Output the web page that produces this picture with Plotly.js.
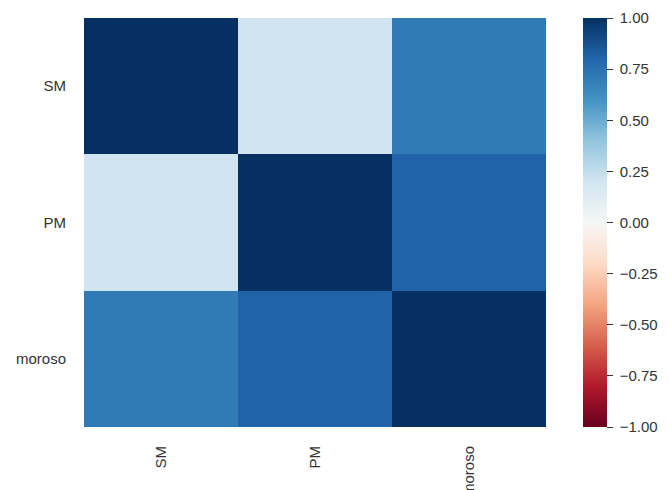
<!DOCTYPE html>
<html>
<head>
<meta charset="utf-8">
<script src="https://cdn.plot.ly/plotly-3.0.1.min.js"></script>
<style>html,body{margin:0;padding:0;background:#fff;}</style>
</head>
<body>
<div id="chart" style="width:670px;height:490px;"></div>
<script>
const labels = ["SM", "PM", "moroso"];
const rowSM = [1.00, 0.20, 0.71];
const rowPM = [0.20, 1.00, 0.81];
const rowMoroso = [0.71, 0.81, 1.00];
const cbTicks = [-1, -0.75, -0.5, -0.25, 0, 0.25, 0.5, 0.75, 1];

const rdbu = [
  [0.0, '#67001f'], [0.1, '#b2182b'], [0.2, '#d6604d'], [0.3, '#f4a582'],
  [0.4, '#fddbc7'], [0.5, '#f7f7f7'], [0.6, '#d1e5f0'], [0.7, '#92c5de'],
  [0.8, '#4393c3'], [0.9, '#2166ac'], [1.0, '#053061']
];

const FONT = 'Liberation Sans, Arial, sans-serif';

const trace = {
  type: 'heatmap',
  x: labels,
  y: labels,
  z: [rowSM, rowPM, rowMoroso],
  zmin: -1, zmax: 1,
  colorscale: rdbu,
  xgap: 0, ygap: 0,
  hoverinfo: 'skip',
  colorbar: {
    thickness: 24, thicknessmode: 'pixels',
    len: 1, lenmode: 'fraction',
    x: 1 + 37/462, xanchor: 'left', xpad: 0,
    y: 1, yanchor: 'top', ypad: 0,
    outlinewidth: 0,
    ticks: 'outside', ticklen: 6, tickwidth: 1, tickcolor: '#333',
    tickvals: cbTicks,
    ticktext: cbTicks.map(v => '\u00a0' + (v < 0 ? '\u2212' : '') + Math.abs(v).toFixed(2)),
    tickfont: {family: FONT, size: 15, color: '#333'}
  }
};

const layout = {
  width: 670, height: 490,
  margin: {l: 84, r: 124, t: 18, b: 63},
  paper_bgcolor: '#fff', plot_bgcolor: '#fff',
  font: {family: FONT, size: 15, color: '#333'},
  xaxis: {
    type: 'category', tickangle: -90, showgrid: false, zeroline: false,
    ticks: 'outside', ticklen: 12, tickcolor: 'rgba(0,0,0,0)', showline: false,
    tickfont: {family: FONT, size: 15, color: '#333'}
  },
  yaxis: {
    type: 'category', autorange: 'reversed', showgrid: false, zeroline: false,
    ticks: 'outside', ticklen: 14, tickcolor: 'rgba(0,0,0,0)', showline: false,
    tickfont: {family: FONT, size: 15, color: '#333'}
  },
  showlegend: false
};

Plotly.newPlot('chart', [trace], layout, {displayModeBar: false, staticPlot: true});
</script>
</body>
</html>
